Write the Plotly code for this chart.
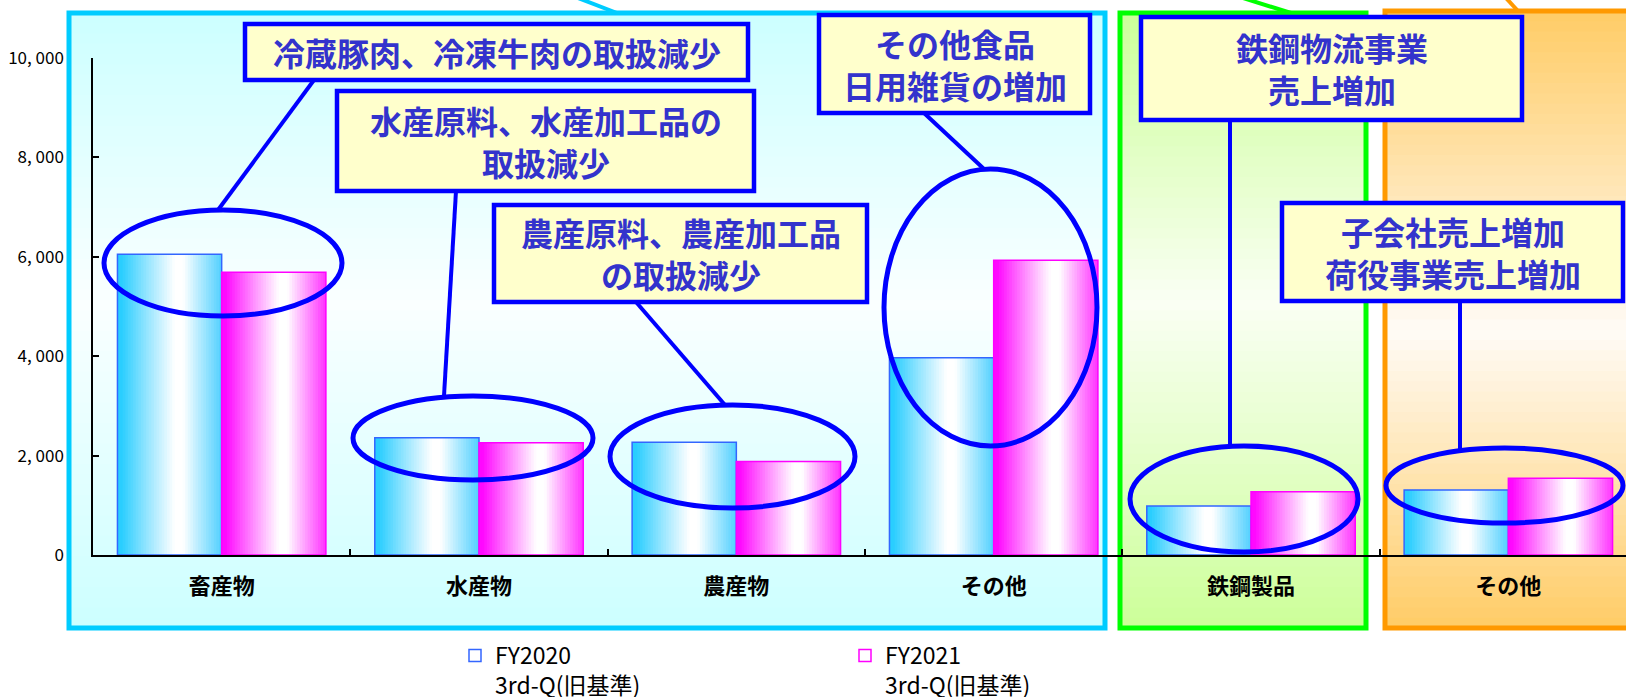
import plotly.graph_objects as go

# ---------------- data ----------------
categories = ["畜産物", "水産物", "農産物", "その他", "鉄鋼製品", "その他"]
fy2020 = [6050, 2360, 2270, 3970, 985, 1310]
fy2021 = [5690, 2260, 1880, 5930, 1275, 1545]
series_names = ["FY2020<br>3rd-Q(旧基準)", "FY2021<br>3rd-Q(旧基準)"]
y_tickvals = [0, 2000, 4000, 6000, 8000, 10000]
y_ticktext = ["0", "2, 000", "4, 000", "6, 000", "8, 000", "10, 000"]
callout_texts = [
    "冷蔵豚肉、冷凍牛肉の取扱減少",
    "水産原料、水産加工品の<br>取扱減少",
    "農産原料、農産加工品<br>の取扱減少",
    "その他食品<br>日用雑貨の増加",
    "鉄鋼物流事業<br>売上増加",
    "子会社売上増加<br>荷役事業売上増加",
]

# ---------------- geometry (pixels) ----------------
FW, FH = 1626, 697
L, R, T, B = 93, 1626, 58, 555
PW, PH = R - L, B - T


def px(x):
    return (x - L) / PW


def py(y):
    return (B - y) / PH


keys = [c + "\u200b" * i for i, c in enumerate(categories)]
BW = 0.405
N = 40


def hexc(rgb):
    return "#%02x%02x%02x" % tuple(int(round(v)) for v in rgb)


def blend(a, b, w):
    return tuple(a[i] * (1 - w) + b[i] * w for i in range(3))


def whiteness(t, peak):
    if t <= 0.04:
        return 0.03
    if t < peak:
        return 0.03 + 0.97 * (t - 0.04) / (peak - 0.04)
    if t < peak + 0.08:
        return 1.0
    return max(0.08, 1.0 - (t - peak - 0.08) / (1 - peak - 0.08) * 0.92)


fig = go.Figure()

series = [
    (fy2020, -BW, (0x22, 0xCC, 0xFF), (0x44, 0xCC, 0xFF), "#3366FF"),
    (fy2021, 0.0, (0xFF, 0x00, 0xFF), (0xFF, 0x22, 0xFF), "#FF00FF"),
]
white = (255, 255, 255)
for si, (vals, off, cl, cr, lc) in enumerate(series):
    for k in range(N):
        t = (k + 0.5) / N
        edge = blend(cl, cr, t)
        col = blend(edge, white, whiteness(t, 0.55))
        w = BW / N * (1.4 if k < N - 1 else 1.0)
        fig.add_trace(go.Bar(
            x=keys, y=vals, width=w, offset=off + k * BW / N,
            marker=dict(color=hexc(col), line=dict(width=0)),
            showlegend=False, hoverinfo="skip",
        ))
    fig.add_trace(go.Bar(
        x=keys, y=vals, width=BW, offset=off, name=series_names[si],
        marker=dict(color="rgba(0,0,0,0)", line=dict(color=lc, width=1.5)),
        legend="legend" if si == 0 else "legend2",
    ))

shapes = []


def grad_box(x0, x1, y0, y1, edge, center, peak, border, K=60):
    for k in range(K):
        t = (k + 0.5) / K
        if t < peak:
            w = t / peak
        else:
            w = 1 - (t - peak) / (1 - peak)
        col = blend(edge, center, w)
        ya = y0 + (y1 - y0) * k / K
        yb = y0 + (y1 - y0) * (k + 1.3) / K
        shapes.append(dict(type="rect", xref="paper", yref="paper",
                           x0=px(x0), x1=px(x1), y0=py(ya), y1=py(min(yb, y1)),
                           fillcolor=hexc(col), line=dict(width=0), layer="below"))
    shapes.append(dict(type="rect", xref="paper", yref="paper",
                       x0=px(x0), x1=px(x1), y0=py(y0), y1=py(y1),
                       line=dict(color=border, width=5), layer="below"))


grad_box(69, 1105, 13, 628, (0xCC, 0xFF, 0xFF), (0xFA, 0xFF, 0xFF), 0.47, "#00CCFF")
grad_box(1120, 1366, 13, 628, (0xCC, 0xFF, 0x99), (0xFA, 0xFF, 0xF4), 0.47, "#00FF00")
grad_box(1385, 1640, 11, 628, (0xFF, 0xCC, 0x66), (0xFF, 0xFB, 0xF6), 0.52, "#FF9900")

# lines leading out at the top
for (xa, ya, xb, yb, c) in [(578, -2, 617, 13, "#00CCFF"),
                            (1243, -2, 1291, 13, "#00FF00"),
                            (1506, -2, 1518, 11, "#FF9900")]:
    shapes.append(dict(type="line", xref="paper", yref="paper",
                       x0=px(xa), y0=py(ya), x1=px(xb), y1=py(yb),
                       line=dict(color=c, width=4), layer="below"))

BLUE = "#0000FF"
# ellipses
for (x0, x1, y0, y1) in [(104, 342, 210, 316), (353, 593, 396, 480),
                         (610, 855, 405, 508), (884, 1097, 169, 446),
                         (1130, 1358, 446, 552), (1386, 1623, 448, 523)]:
    shapes.append(dict(type="circle", xref="paper", yref="paper",
                       x0=px(x0), x1=px(x1), y0=py(y0), y1=py(y1),
                       line=dict(color=BLUE, width=5), layer="above"))

# connector lines
for (xa, ya, xb, yb) in [(314, 80, 218, 210), (456, 191, 444, 396),
                         (636, 302, 725, 405), (924, 113, 984, 169),
                         (1230, 120, 1230, 448), (1460, 301, 1460, 450)]:
    shapes.append(dict(type="line", xref="paper", yref="paper",
                       x0=px(xa), y0=py(ya), x1=px(xb), y1=py(yb),
                       line=dict(color=BLUE, width=4), layer="above"))

boxes = [(245, 748, 24, 80), (337, 754, 91, 191), (494, 867, 205, 302),
         (819, 1090, 15, 113), (1141, 1522, 17, 120), (1282, 1623, 203, 301)]
annotations = []
for (x0, x1, y0, y1), txt in zip(boxes, callout_texts):
    shapes.append(dict(type="rect", xref="paper", yref="paper",
                       x0=px(x0), x1=px(x1), y0=py(y0), y1=py(y1),
                       fillcolor="#FFFFCC", line=dict(color=BLUE, width=4.5),
                       layer="above"))
    annotations.append(dict(xref="paper", yref="paper",
                            x=px((x0 + x1) / 2), y=py((y0 + y1) / 2),
                            text=txt, showarrow=False, xanchor="center",
                            yanchor="middle",
                            font=dict(family="Noto Sans CJK JP", size=32,
                                      color="#3333CC", weight="bold")))

legend_font = dict(family="Noto Sans CJK JP", size=23, color="black")
fig.update_layout(
    width=FW, height=FH,
    margin=dict(l=L, r=FW - R, t=T, b=FH - B, autoexpand=False),
    paper_bgcolor="white", plot_bgcolor="rgba(0,0,0,0)",
    barmode="overlay",
    shapes=shapes, annotations=annotations,
    legend=dict(x=px(455), y=py(634), xanchor="left", yanchor="top",
                font=legend_font, bgcolor="rgba(0,0,0,0)", borderwidth=0,
                itemwidth=30, valign="top"),
    legend2=dict(x=px(845), y=py(634), xanchor="left", yanchor="top",
                 font=legend_font, bgcolor="rgba(0,0,0,0)", borderwidth=0,
                 itemwidth=30, valign="top"),
    xaxis=dict(type="category", range=[-0.5, 5.5 - 11 / 257],
               tickson="boundaries", ticks="inside", ticklen=6, tickwidth=1.5,
               tickcolor="black", showline=True, linecolor="black", linewidth=1.5,
               showgrid=False, zeroline=False, ticklabelstandoff=11,
               tickfont=dict(family="Noto Sans CJK JP", size=22, color="black",
                             weight="bold")),
    yaxis=dict(range=[0, 10000], tickvals=y_tickvals, ticktext=y_ticktext,
               ticks="inside", ticklen=6, tickwidth=1.5, tickcolor="black",
               showline=True, linecolor="black", linewidth=1.5,
               showgrid=False, zeroline=False, ticklabelstandoff=24,
               tickfont=dict(family="Noto Sans CJK JP", size=17, color="black")),
    showlegend=True,
)

fig.write_html("out.html", config={"displayModeBar": False},
               post_script="document.body.style.margin='0';")
